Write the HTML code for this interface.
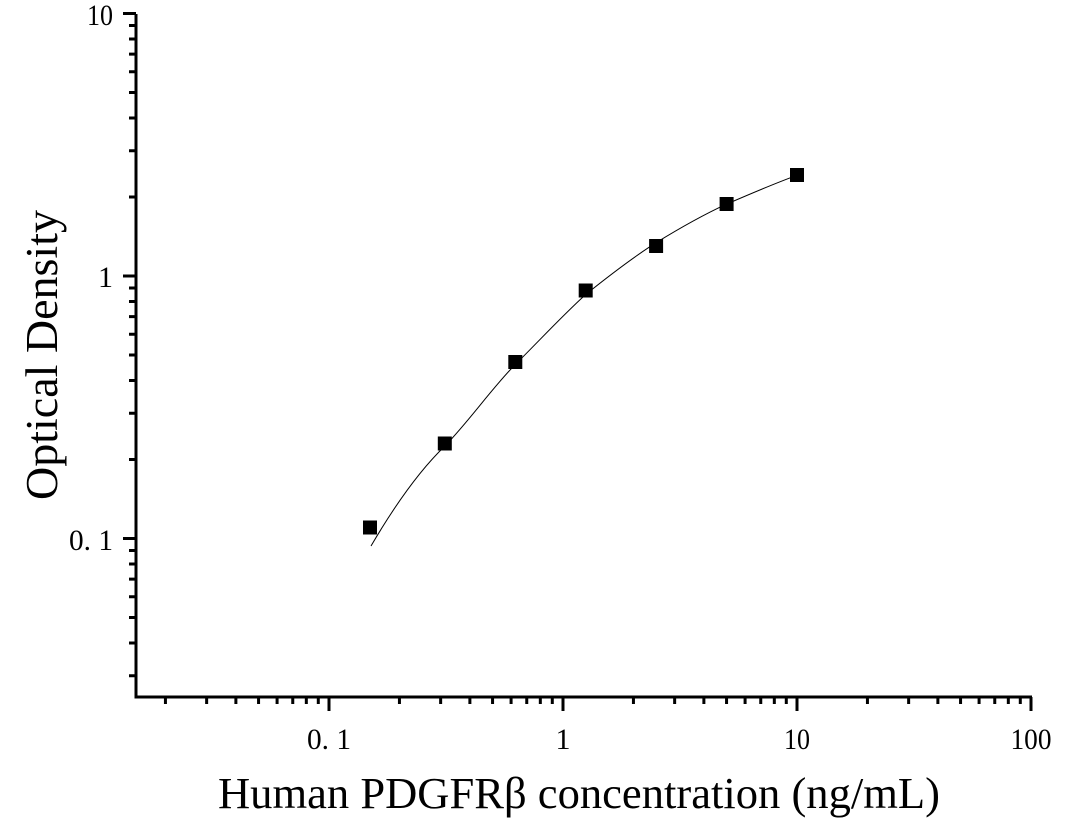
<!DOCTYPE html>
<html><head><meta charset="utf-8"><style>body{margin:0;background:#fff}svg{display:block}</style></head>
<body>
<svg id="s" width="1071" height="819" xmlns="http://www.w3.org/2000/svg" font-family="'Liberation Serif',serif">
<g id="t" stroke="#000" stroke-width="3"></g>
<path d="M136,14 L136,697 L1032,697" fill="none" stroke="#000" stroke-width="3"/>
<path d="M371,546 C395,505 420,470 444.8,446.1 C470,420 492,388 515.3,364.5 C540,340 562,316 585.7,294.5 C610,275 632,258 656.1,242.7 C680,228 703,215 726.6,204.1 C750,194 773,184 797,175.3" fill="none" stroke="#000" stroke-width="1"/>
<g fill="#000">
<rect x="363" y="520.5" width="14" height="14"/>
<rect x="437.8" y="436.5" width="14" height="14"/>
<rect x="508.3" y="355" width="14" height="14"/>
<rect x="578.7" y="283.5" width="14" height="14"/>
<rect x="649.1" y="239" width="14" height="14"/>
<rect x="719.6" y="197" width="14" height="14"/>
<rect x="790" y="168" width="14" height="14"/>
</g>
<g font-size="30" fill="#000">
<text x="113" y="25" text-anchor="end" textLength="26" lengthAdjust="spacingAndGlyphs">10</text>
<text x="113" y="287" text-anchor="end">1</text>
<text x="113" y="550" text-anchor="end" textLength="44" lengthAdjust="spacingAndGlyphs">0. 1</text>
<text x="329" y="749" text-anchor="middle" textLength="44" lengthAdjust="spacingAndGlyphs">0. 1</text>
<text x="563" y="749" text-anchor="middle">1</text>
<text x="797" y="749" text-anchor="middle" textLength="26" lengthAdjust="spacingAndGlyphs">10</text>
<text x="1031" y="749" text-anchor="middle" textLength="41" lengthAdjust="spacingAndGlyphs">100</text>
</g>
<text x="579" y="808" font-size="44" text-anchor="middle" textLength="722" lengthAdjust="spacingAndGlyphs">Human PDGFRβ concentration (ng/mL)</text>
<text transform="translate(57,355) rotate(-90)" font-size="45" text-anchor="middle" textLength="290" lengthAdjust="spacingAndGlyphs">Optical Density</text>
</svg>
<script>
var g=document.getElementById('t'),d='';
function X(v){return 563+234*Math.log10(v)}
function Y(v){return 276-262.5*Math.log10(v)}
[0.01,0.1,1,10].forEach(function(b){for(var k=1;k<10;k++){var v=b*k,x=X(v);if(x<138||x>1033)continue;d+='M'+x+',697 L'+x+','+(k==1?711:704)+' ';}});
d+='M'+X(100)+',697 L'+X(100)+',711 ';
[0.01,0.1,1].forEach(function(b){for(var k=1;k<10;k++){var v=b*k,y=Y(v);if(y>695||y<12)continue;d+='M136,'+y+' L'+(k==1?123:129)+','+y+' ';}});
d+='M136,'+Y(10)+' L123,'+Y(10);
var p=document.createElementNS('http://www.w3.org/2000/svg','path');p.setAttribute('d',d);g.appendChild(p);
</script>
</body></html>
